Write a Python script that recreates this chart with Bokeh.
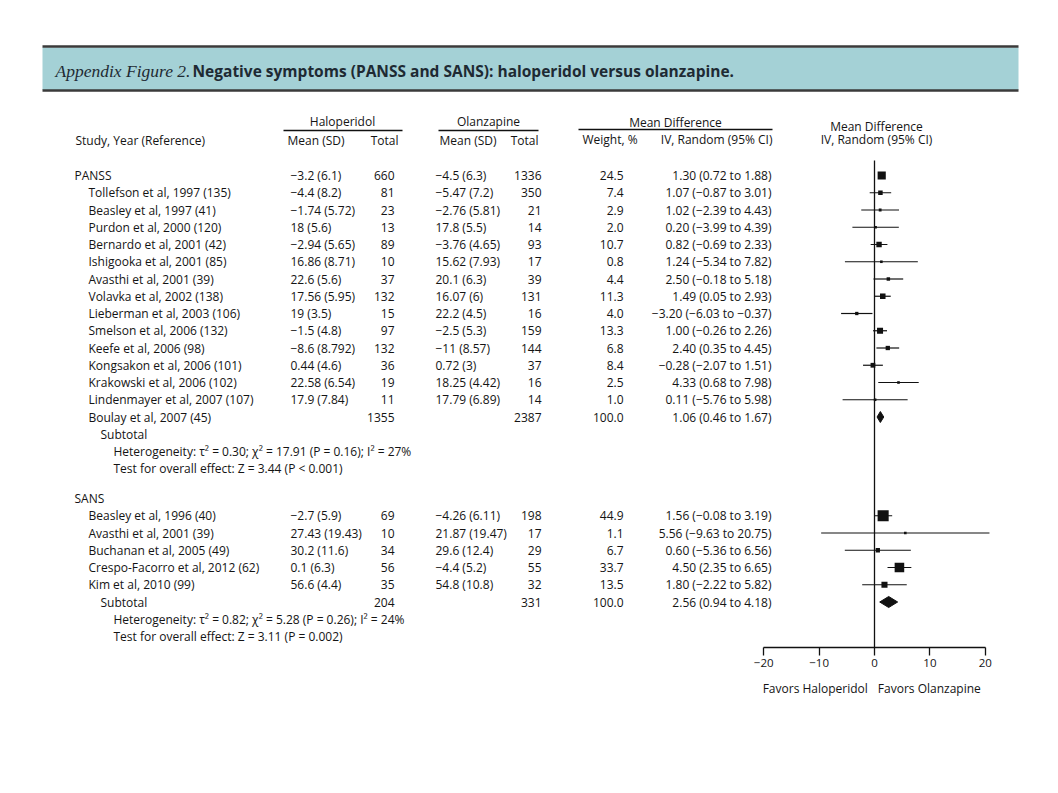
from bokeh.plotting import figure
from bokeh.layouts import column
from bokeh.models import Range1d, LinearAxis, FixedTicker, ColumnDataSource
from bokeh.core.properties import value
from bokeh.embed import file_html
from bokeh.resources import INLINE

# ---------------- data ----------------
panss_labels = ["PANSS", "Tollefson et al, 1997 (135)", "Beasley et al, 1997 (41)",
                "Purdon et al, 2000 (120)", "Bernardo et al, 2001 (42)",
                "Ishigooka et al, 2001 (85)", "Avasthi et al, 2001 (39)",
                "Volavka et al, 2002 (138)", "Lieberman et al, 2003 (106)",
                "Smelson et al, 2006 (132)", "Keefe et al, 2006 (98)",
                "Kongsakon et al, 2006 (101)", "Krakowski et al, 2006 (102)",
                "Lindenmayer et al, 2007 (107)"]
panss_hal_mean = [-3.2, -4.4, -1.74, 18, -2.94, 16.86, 22.6, 17.56, 19, -1.5, -8.6, 0.44, 22.58, 17.9]
panss_hal_sd = [6.1, 8.2, 5.72, 5.6, 5.65, 8.71, 5.6, 5.95, 3.5, 4.8, 8.792, 4.6, 6.54, 7.84]
panss_hal_n = [660, 81, 23, 13, 89, 10, 37, 132, 15, 97, 132, 36, 19, 11]
panss_olz_mean = [-4.5, -5.47, -2.76, 17.8, -3.76, 15.62, 20.1, 16.07, 22.2, -2.5, -11, 0.72, 18.25, 17.79]
panss_olz_sd = [6.3, 7.2, 5.81, 5.5, 4.65, 7.93, 6.3, 6, 4.5, 5.3, 8.57, 3, 4.42, 6.89]
panss_olz_n = [1336, 350, 21, 14, 93, 17, 39, 131, 16, 159, 144, 37, 16, 14]
panss_weight = [24.5, 7.4, 2.9, 2.0, 10.7, 0.8, 4.4, 11.3, 4.0, 13.3, 6.8, 8.4, 2.5, 1.0]
panss_md = [1.30, 1.07, 1.02, 0.20, 0.82, 1.24, 2.50, 1.49, -3.20, 1.00, 2.40, -0.28, 4.33, 0.11]
panss_lo = [0.72, -0.87, -2.39, -3.99, -0.69, -5.34, -0.18, 0.05, -6.03, -0.26, 0.35, -2.07, 0.68, -5.76]
panss_hi = [1.88, 3.01, 4.43, 4.39, 2.33, 7.82, 5.18, 2.93, -0.37, 2.26, 4.45, 1.51, 7.98, 5.98]
panss_pool_label = "Boulay et al, 2007 (45)"
panss_pool = dict(hal_n=1355, olz_n=2387, weight=100.0, md=1.06, lo=0.46, hi=1.67)
panss_het = "Heterogeneity: τ² = 0.30; χ² = 17.91 (P = 0.16); I² = 27%"
panss_test = "Test for overall effect: Z = 3.44 (P < 0.001)"

sans_labels = ["Beasley et al, 1996 (40)", "Avasthi et al, 2001 (39)",
               "Buchanan et al, 2005 (49)", "Crespo-Facorro et al, 2012 (62)",
               "Kim et al, 2010 (99)"]
sans_hal_mean = [-2.7, 27.43, 30.2, 0.1, 56.6]
sans_hal_sd = [5.9, 19.43, 11.6, 6.3, 4.4]
sans_hal_n = [69, 10, 34, 56, 35]
sans_olz_mean = [-4.26, 21.87, 29.6, -4.4, 54.8]
sans_olz_sd = [6.11, 19.47, 12.4, 5.2, 10.8]
sans_olz_n = [198, 17, 29, 55, 32]
sans_weight = [44.9, 1.1, 6.7, 33.7, 13.5]
sans_md = [1.56, 5.56, 0.60, 4.50, 1.80]
sans_lo = [-0.08, -9.63, -5.36, 2.35, -2.22]
sans_hi = [3.19, 20.75, 6.56, 6.65, 5.82]
sans_pool = dict(hal_n=204, olz_n=331, weight=100.0, md=2.56, lo=0.94, hi=4.18)
sans_het = "Heterogeneity: τ² = 0.82; χ² = 5.28 (P = 0.26); I² = 24%"
sans_test = "Test for overall effect: Z = 3.11 (P = 0.002)"

x_ticks = [-20, -10, 0, 10, 20]
favors_left = "Favors Haloperidol"
favors_right = "Favors Olanzapine"

# ---------------- helpers ----------------
def m(s):
    return s.replace("-", "\u2212")

def g(v):
    return m(f"{v:g}")

def msd(mean, sd):
    return f"{g(mean)} ({g(sd)})"

def ci(md, lo, hi):
    return m(f"{md:.2f} ({lo:.2f} to {hi:.2f})")

FONT = "Open Sans"
FS = "12px"
COL = "#141414"

# layout (page coordinates)
X_SEC, X_STUDY, X_SUB, X_HET = 74, 88, 100, 113
X_HMEAN, X_HN, X_OMEAN, X_ON, X_W, X_CI = 290, 394, 435, 541, 623, 771
DY = 17.25
Y_PANSS = 175
Y_SANS = 498

left_t = {"x": [], "y": [], "t": []}
right_t = {"x": [], "y": [], "t": []}
center_t = {"x": [], "y": [], "t": []}

def L(x, y, t):
    left_t["x"].append(x); left_t["y"].append(y); left_t["t"].append(t)

def R(x, y, t):
    right_t["x"].append(x); right_t["y"].append(y); right_t["t"].append(t)

def C(x, y, t):
    center_t["x"].append(x); center_t["y"].append(y); center_t["t"].append(t)

sq = {"x": [], "y": [], "s": []}
seg = {"x0": [], "x1": [], "y": []}
dia = {"xs": [], "ys": []}

# PANSS block
for i, lab in enumerate(panss_labels):
    y = Y_PANSS + DY * i
    L(X_SEC if i == 0 else X_STUDY, y, lab)
    L(X_HMEAN, y, msd(panss_hal_mean[i], panss_hal_sd[i]))
    R(X_HN, y, str(panss_hal_n[i]))
    L(X_OMEAN, y, msd(panss_olz_mean[i], panss_olz_sd[i]))
    R(X_ON, y, str(panss_olz_n[i]))
    R(X_W, y, f"{panss_weight[i]:.1f}")
    R(X_CI, y, ci(panss_md[i], panss_lo[i], panss_hi[i]))
    sq["x"].append(panss_md[i]); sq["y"].append(y)
    sq["s"].append(max(2.6, 1.65 * panss_weight[i] ** 0.5))
    seg["x0"].append(panss_lo[i]); seg["x1"].append(panss_hi[i]); seg["y"].append(y)

y = Y_PANSS + DY * len(panss_labels)
L(X_STUDY, y, panss_pool_label)
R(X_HN, y, str(panss_pool["hal_n"]))
R(X_ON, y, str(panss_pool["olz_n"]))
R(X_W, y, f"{panss_pool['weight']:.1f}")
R(X_CI, y, ci(panss_pool["md"], panss_pool["lo"], panss_pool["hi"]))
dia["xs"].append([panss_pool["lo"], panss_pool["md"], panss_pool["hi"], panss_pool["md"]])
dia["ys"].append([y, y - 5.5, y, y + 5.5])
L(X_SUB, y + DY, "Subtotal")
L(X_HET, y + 2 * DY, panss_het)
L(X_HET, y + 3 * DY, panss_test)

# SANS block
L(X_SEC, Y_SANS, "SANS")
for k, lab in enumerate(sans_labels):
    y = Y_SANS + DY * (k + 1)
    L(X_STUDY, y, lab)
    L(X_HMEAN, y, msd(sans_hal_mean[k], sans_hal_sd[k]))
    R(X_HN, y, str(sans_hal_n[k]))
    L(X_OMEAN, y, msd(sans_olz_mean[k], sans_olz_sd[k]))
    R(X_ON, y, str(sans_olz_n[k]))
    R(X_W, y, f"{sans_weight[k]:.1f}")
    R(X_CI, y, ci(sans_md[k], sans_lo[k], sans_hi[k]))
    sq["x"].append(sans_md[k]); sq["y"].append(y)
    sq["s"].append(max(2.6, 1.65 * sans_weight[k] ** 0.5))
    seg["x0"].append(sans_lo[k]); seg["x1"].append(sans_hi[k]); seg["y"].append(y)

y = Y_SANS + DY * (len(sans_labels) + 1)
L(X_SUB, y, "Subtotal")
R(X_HN, y, str(sans_pool["hal_n"]))
R(X_ON, y, str(sans_pool["olz_n"]))
R(X_W, y, f"{sans_pool['weight']:.1f}")
R(X_CI, y, ci(sans_pool["md"], sans_pool["lo"], sans_pool["hi"]))
dia["xs"].append([sans_pool["lo"], sans_pool["md"], sans_pool["hi"], sans_pool["md"]])
dia["ys"].append([y, y - 5.5, y, y + 5.5])
L(X_HET, y + DY, sans_het)
L(X_HET, y + 2 * DY, sans_test)

# headers
C(342, 121, "Haloperidol")
C(488, 121, "Olanzapine")
C(675, 122, "Mean Difference")
C(876, 126, "Mean Difference")
C(876, 139, "IV, Random (95% CI)")
L(75, 140, "Study, Year (Reference)")
L(287, 140, "Mean (SD)")
R(398, 140, "Total")
L(439, 140, "Mean (SD)")
R(538, 140, "Total")
L(582, 139, "Weight, %")
R(772, 139, "IV, Random (95% CI)")

# ---------------- figures ----------------
ZERO_PX, SCALE = 874.0, 5.54
W, AX_Y, BORDER = 1050, 647, 32
md_range = Range1d((0 - ZERO_PX) / SCALE, (W - ZERO_PX) / SCALE)

p = figure(frame_width=W, frame_height=AX_Y,
           x_range=Range1d(0, W), y_range=Range1d(AX_Y, 0),
           x_axis_type=None, y_axis_type=None,
           output_backend="svg", toolbar_location=None,
           min_border=0, min_border_bottom=BORDER, outline_line_color=None)
p.extra_x_ranges = {"md": md_range}
p.grid.visible = False
p.background_fill_color = "white"
p.border_fill_color = "white"

# title band
p.quad(left=[42], right=[1018], top=[47], bottom=[89.5], fill_color="#a4d1d6", line_color=None)
p.segment(x0=[42, 42], x1=[1018, 1018], y0=[46, 90], y1=[46, 90], line_color="#3a3a3a", line_width=2.5)
p.text(x=[55], y=[70], text=["Appendix Figure 2."], text_font=value("Liberation Serif"),
       text_font_style="italic", text_font_size="17.5px", text_color="#1e2a33",
       text_baseline="middle", text_align="left")
p.text(x=[192], y=[70], text=["Negative symptoms (PANSS and SANS): haloperidol versus olanzapine."],
       text_font=value(FONT), text_font_style="bold", text_font_size="15.5px", text_color="#1e2a33",
       text_baseline="middle", text_align="left")

# header underlines
p.segment(x0=[283, 438, 578], x1=[402, 538, 772], y0=[130, 130, 129], y1=[130, 130, 129],
          line_color="#111111", line_width=1.3)

for src, al in ((left_t, "left"), (right_t, "right"), (center_t, "center")):
    p.text(x="x", y="y", text="t", source=ColumnDataSource(src), text_align=al,
           text_baseline="middle", text_font=value(FONT), text_font_size=FS, text_color=COL)

# forest plot
p.segment(x0=[0], x1=[0], y0=[160], y1=[AX_Y], x_range_name="md", line_color="#111111", line_width=1.3)
p.segment(x0="x0", x1="x1", y0="y", y1="y", source=ColumnDataSource(seg), x_range_name="md",
          line_color="#111111", line_width=1.2)
p.scatter(x="x", y="y", size="s", marker="square", source=ColumnDataSource(sq), x_range_name="md",
          fill_color="#111111", line_color=None)
p.patches(xs="xs", ys="ys", source=ColumnDataSource(dia), x_range_name="md",
          fill_color="#111111", line_color="#111111")

ax = LinearAxis(x_range_name="md", ticker=FixedTicker(ticks=x_ticks), bounds=(x_ticks[0], x_ticks[-1]))
ax.major_label_overrides = {t: m(str(t)) for t in x_ticks}
ax.minor_tick_line_color = None
ax.major_tick_in = 0
ax.major_tick_out = 8
ax.axis_line_width = 1.3
ax.major_tick_line_width = 1.3
ax.axis_line_color = "#111111"
ax.major_tick_line_color = "#111111"
ax.major_label_text_font = FONT
ax.major_label_text_font_size = "11.5px"
ax.major_label_text_color = COL
ax.major_label_standoff = 3
p.add_layout(ax, "below")

# strip under the axis with the direction labels
top2 = AX_Y + BORDER
p2 = figure(frame_width=W, frame_height=40, x_range=md_range, y_range=Range1d(top2 + 40, top2),
            x_axis_type=None, y_axis_type=None, output_backend="svg", toolbar_location=None,
            min_border=0, outline_line_color=None)
p2.grid.visible = False
p2.text(x=[-1.2], y=[688], text=[favors_left], text_align="right", text_baseline="middle",
        text_font=value(FONT), text_font_size=FS, text_color=COL)
p2.text(x=[0.6], y=[688], text=[favors_right], text_align="left", text_baseline="middle",
        text_font=value(FONT), text_font_size=FS, text_color=COL)

layout = column(p, p2, spacing=0)
open("out.html", "w").write(file_html(layout, INLINE))
